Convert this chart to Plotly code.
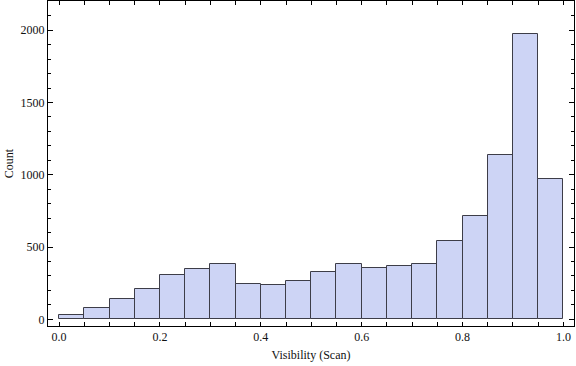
import plotly.graph_objects as go

bin_edges = [0.00, 0.05, 0.10, 0.15, 0.20, 0.25, 0.30, 0.35, 0.40, 0.45, 0.50,
             0.55, 0.60, 0.65, 0.70, 0.75, 0.80, 0.85, 0.90, 0.95, 1.00]
counts = [28, 76, 138, 207, 310, 345, 386, 248, 241, 262,
          331, 386, 352, 366, 386, 540, 717, 1138, 1972, 972]
x_ticks = [0.0, 0.2, 0.4, 0.6, 0.8, 1.0]
x_ticklabels = ["0.0", "0.2", "0.4", "0.6", "0.8", "1.0"]
y_ticks = [0, 500, 1000, 1500, 2000]

centers = [(a + b) / 2 for a, b in zip(bin_edges[:-1], bin_edges[1:])]
widths = [b - a for a, b in zip(bin_edges[:-1], bin_edges[1:])]

font = "Liberation Serif, Times New Roman, serif"

fig = go.Figure(go.Bar(
    x=centers, y=counts, width=widths,
    marker=dict(color="#CDD4F5", line=dict(color="#3d3d48", width=1)),
))

fig.update_layout(
    width=576, height=366,
    margin=dict(l=48, r=2, t=1, b=40),
    paper_bgcolor="white", plot_bgcolor="white",
    showlegend=False, bargap=0,
    font=dict(family=font, size=12, color="#111"),
)
fig.update_xaxes(
    range=[-0.022, 1.021], tickvals=x_ticks, ticktext=x_ticklabels,
    ticks="inside", ticklen=4, tickcolor="#000", tickwidth=1,
    minor=dict(ticks="inside", dtick=0.05, tick0=0, ticklen=4, tickcolor="#000"),
    showline=True, linecolor="#000", linewidth=1, mirror="allticks",
    showgrid=False, zeroline=False,
    title=dict(text="Visibility (Scan)", font=dict(family=font, size=12), standoff=7),
)
fig.update_yaxes(
    range=[-46, 2202], tickvals=y_ticks,
    ticks="inside", ticklen=5, tickcolor="#000", tickwidth=1,
    minor=dict(ticks="inside", dtick=100, tick0=0, ticklen=3, tickcolor="#000"),
    showline=True, linecolor="#000", linewidth=1, mirror="allticks",
    showgrid=False, zeroline=False,
    title=dict(text="Count", font=dict(family=font, size=12), standoff=4),
)

fig.write_html("out.html", config={"displayModeBar": False},
               post_script="document.body.style.margin='0';")
